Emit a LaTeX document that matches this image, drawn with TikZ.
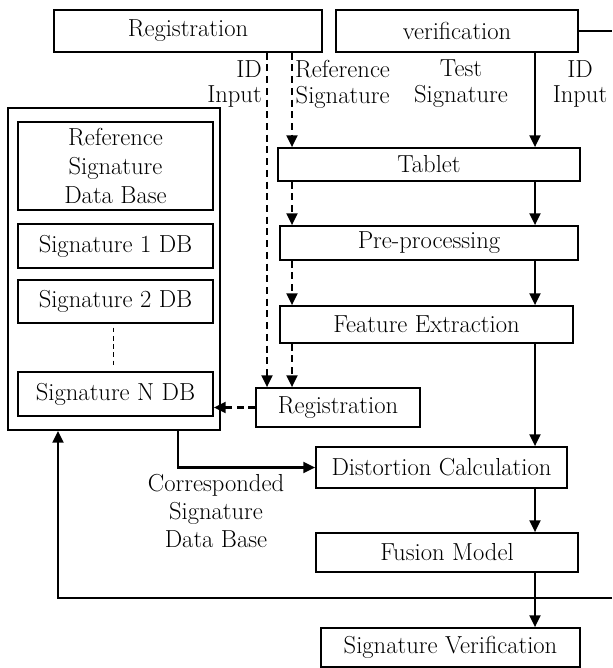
\documentclass[tikz,border=0pt]{standalone}
\usepackage{tikz}
\usetikzlibrary{arrows.meta}
\usetikzlibrary{positioning}
\tikzset{blk/.style = {draw, line width=1.2pt, inner sep=0pt, align=center},
         arr/.style = {line width=2.4pt, -{Triangle[length=3.6mm, width=3.2mm]}},
         darr/.style = {arr, dash pattern=on 6pt off 4pt},
         lbl/.style = {align=center, inner sep=0pt}}

\begin{document}
\begin{tikzpicture}[x=0.03cm, y=-0.03cm,
    every node/.style={font=\fontsize{21}{22}\selectfont}]
    \useasboundingbox (0, 0) rectangle (612, 668);

    % top row
    \node [blk, minimum width=8.04cm, minimum height=1.26cm] (regtop) at (188, 31) {Registration};
    \node [blk, minimum width=7.26cm, minimum height=1.26cm] (verif) at (457, 31) {verification};

    % processing chain
    \node [blk, minimum width=9.06cm, minimum height=0.99cm] (tablet) at (429, 164.5) {Tablet};
    \node [blk, minimum width=8.94cm, minimum height=1.02cm] (prep) at (429, 243) {Pre-processing};
    \node [blk, minimum width=8.79cm, minimum height=1.11cm] (feat) at (426.5, 324.5) {Feature Extraction};
    \node [blk, minimum width=4.92cm, minimum height=1.17cm] (regbot) at (338, 407.5) {Registration};
    \node [blk, minimum width=7.53cm, minimum height=1.23cm] (dist) at (441.5, 467.5) {Distortion Calculation};
    \node [blk, minimum width=7.86cm, minimum height=1.17cm] (fusion) at (447, 552.5) {Fusion Model};
    \node [blk, minimum width=7.77cm, minimum height=1.17cm] (sigver) at (450.5, 647.5) {Signature Verification};

    % data base
    \node [blk, minimum width=6.36cm, minimum height=9.66cm] (db) at (114, 269) {};
    \node [blk, minimum width=5.85cm, minimum height=2.64cm,
           font=\fontsize{21}{25}\selectfont] (refdb) at (115.5, 166) {Reference\\Signature\\Data Base};
    \node [blk, minimum width=5.85cm, minimum height=1.32cm] (sig1) at (115.5, 246) {Signature 1 DB};
    \node [blk, minimum width=5.85cm, minimum height=1.29cm] (sig2) at (115.5, 301.5) {Signature 2 DB};
    \node [blk, minimum width=5.85cm, minimum height=1.32cm] (sign) at (115.5, 394) {Signature N DB};
    \draw [line width=0.8pt, dash pattern=on 4pt off 3pt, shorten >=0.12cm, shorten <=0.12cm]
        (sig2.south -| 113, 0) -- (sign.north -| 113, 0);

    % labels
    \node [lbl, align=right, anchor=east] (idreg) at (262, 84) {ID\\Input};
    \node [lbl, anchor=west] (refsig) at (295, 84) {Reference\\Signature};
    \node [lbl] (testsig) at (461, 84) {Test\\Signature};
    \node [lbl] (idver) at (580, 84) {ID\\Input};
    \node [lbl, font=\fontsize{21}{24}\selectfont] (corr) at (216, 511) {Corresponded\\Signature\\Data Base};

    % lanes
    \coordinate (idx) at (267, 0);
    \coordinate (rx) at (292, 0);
    \coordinate (vx) at (535, 0);
    \coordinate (cx) at (178, 0);
    \coordinate (lx) at (58, 0);
    \coordinate (edgetop) at (612, 31);
    \coordinate (edgebot) at (612, 598);

    % registration path
    \draw [darr] (regtop.south -| idx) -- (regbot.north -| idx);
    \draw [darr] (regtop.south -| rx) -- (tablet.north -| rx);
    \draw [darr] (tablet.south -| rx) -- (prep.north -| rx);
    \draw [darr] (prep.south -| rx) -- (feat.north -| rx);
    \draw [darr] (feat.south -| rx) -- (regbot.north -| rx);
    \draw [darr] (regbot.west) -- (regbot.west -| sign.east);

    % verification path
    \draw [arr] (verif.south -| vx) -- (tablet.north -| vx);
    \draw [arr] (tablet.south -| vx) -- (prep.north -| vx);
    \draw [arr] (prep.south -| vx) -- (feat.north -| vx);
    \draw [arr] (feat.south -| vx) -- (dist.north -| vx);
    \draw [arr] (dist.south -| vx) -- (fusion.north -| vx);
    \draw [arr] (fusion.south -| vx) -- (sigver.north -| vx);
    \draw [arr] (db.south -| cx) |- (dist.west);

    % ID input loop
    \draw [line width=2.4pt] (verif.east) -- (edgetop);
    \draw [arr] (edgebot) -| (db.south -| lx);
\end{tikzpicture}
\end{document}
